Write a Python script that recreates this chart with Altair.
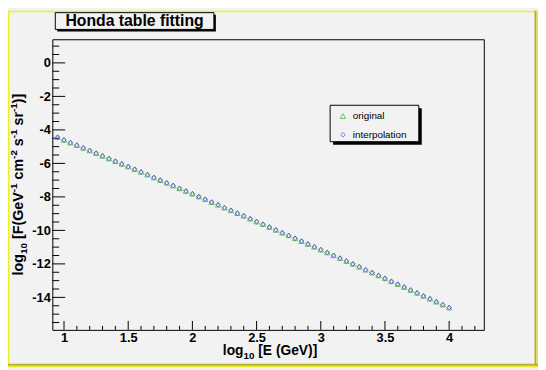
import altair as alt
import pandas as pd

# ---------------- data ----------------
log_e = [0.95, 1.0, 1.05, 1.1, 1.15, 1.2, 1.25, 1.3, 1.35, 1.4, 1.45, 1.5,
         1.55, 1.6, 1.65, 1.7, 1.75, 1.8, 1.85, 1.9, 1.95, 2.0, 2.05, 2.1,
         2.15, 2.2, 2.25, 2.3, 2.35, 2.4, 2.45, 2.5, 2.55, 2.6, 2.65, 2.7,
         2.75, 2.8, 2.85, 2.9, 2.95, 3.0, 3.05, 3.1, 3.15, 3.2, 3.25, 3.3,
         3.35, 3.4, 3.45, 3.5, 3.55, 3.6, 3.65, 3.7, 3.75, 3.8, 3.85, 3.9,
         3.95, 4.0]

orig_flux = [-4.44, -4.60, -4.76, -4.91, -5.07, -5.23, -5.39, -5.55, -5.71,
             -5.87, -6.03, -6.19, -6.35, -6.51, -6.67, -6.84, -7.00, -7.16,
             -7.32, -7.49, -7.65, -7.81, -7.98, -8.14, -8.31, -8.47, -8.64,
             -8.80, -8.97, -9.13, -9.30, -9.47, -9.63, -9.80, -9.97, -10.14,
             -10.30, -10.47, -10.64, -10.81, -10.98, -11.15, -11.32, -11.49,
             -11.66, -11.83, -12.00, -12.17, -12.35, -12.52, -12.69, -12.86,
             -13.04, -13.21, -13.38, -13.56, -13.73, -13.91, -14.08, -14.26,
             -14.43, -14.61]

interp_flux = [-4.44, -4.60, -4.76, -4.91, -5.07, -5.23, -5.39, -5.55, -5.71,
               -5.87, -6.03, -6.19, -6.35, -6.51, -6.67, -6.84, -7.00, -7.16,
               -7.32, -7.49, -7.65, -7.81, -7.98, -8.14, -8.31, -8.47, -8.64,
               -8.80, -8.97, -9.13, -9.30, -9.47, -9.63, -9.80, -9.97, -10.14,
               -10.30, -10.47, -10.64, -10.81, -10.98, -11.15, -11.32, -11.49,
               -11.66, -11.83, -12.00, -12.17, -12.35, -12.52, -12.69, -12.86,
               -13.04, -13.21, -13.38, -13.56, -13.73, -13.91, -14.08, -14.26,
               -14.43, -14.61]

x_major = [1.0, 1.5, 2.0, 2.5, 3.0, 3.5, 4.0]
x_minor = [1.1, 1.2, 1.3, 1.4, 1.6, 1.7, 1.8, 1.9, 2.1, 2.2, 2.3, 2.4,
           2.6, 2.7, 2.8, 2.9, 3.1, 3.2, 3.3, 3.4, 3.6, 3.7, 3.8, 3.9,
           4.1, 4.2]
y_major = [-14, -12, -10, -8, -6, -4, -2, 0]
y_minor = [-15.5, -15, -14.5, -13.5, -13, -12.5, -11.5, -11, -10.5,
           -9.5, -9, -8.5, -7.5, -7, -6.5, -5.5, -5, -4.5, -3.5, -3,
           -2.5, -1.5, -1, -0.5, 0.5, 1.0]

title_text = "Honda table fitting"
legend_labels = ["original", "interpolation"]
# axis titles as (text, kind) pieces: n = normal, sub = subscript, sup = superscript
x_title = [("log", "n"), ("10", "sub"), (" [E (GeV)]", "n")]
y_title = [("log", "n"), ("10", "sub"), (" [F(GeV", "n"), ("-1", "sup"),
           (" cm", "n"), ("-2", "sup"), (" s", "n"), ("-1", "sup"),
           (" sr", "n"), ("-1", "sup"), (")]", "n")]

# ---------------- styling ----------------
W, H = 438, 295
BG = "#f2f2f2"
GREEN = "#33aa33"
BLUE = "#4a4ad0"
FONT = "Liberation Sans"

# Arial/Liberation Sans Bold advance widths (per 1000 em) for layout of titles
BOLD_W = {" ": 278, "[": 333, "]": 333, "(": 333, ")": 333, "-": 333,
          "0": 556, "1": 556, "2": 556, "E": 667, "F": 611, "G": 778,
          "V": 667, "c": 556, "e": 556, "g": 611, "l": 278, "m": 889,
          "o": 611, "r": 389, "s": 556}


def text_w(s, size):
    return sum(BOLD_W.get(c, 556) for c in s) * size / 1000.0


xs = alt.Scale(domain=[0.909, 4.27], nice=False, zero=False)
ys = alt.Scale(domain=[-15.94, 1.41], nice=False, zero=False)

xaxis = alt.Axis(values=x_major, ticks=False, domain=False, grid=False,
                 labelFont=FONT, labelFontWeight="bold", labelFontSize=13,
                 labelColor="black", labelPadding=2, title=None,
                 labelExpr="datum.value + ''", labelFlush=False)
yaxis = alt.Axis(values=y_major, ticks=False, domain=False, grid=False,
                 labelFont=FONT, labelFontWeight="bold", labelFontSize=13,
                 labelColor="black", labelPadding=2, title=None,
                 labelExpr="datum.value + ''")

df_o = pd.DataFrame({"logE": log_e, "flux": orig_flux})
df_i = pd.DataFrame({"logE": log_e, "flux": interp_flux})

one = alt.Data(values=[{"k": 1}])


def box(x1, x2, y1, y2, **kw):
    return alt.Chart(one).mark_rect(**kw).encode(
        x=alt.value(x1), x2=alt.value(x2), y=alt.value(y1), y2=alt.value(y2))


def txt(x, y, s, **kw):
    return alt.Chart(one).mark_text(**kw).encode(
        x=alt.value(x), y=alt.value(y), text=alt.value(s))


def rich_title(pieces, cx, cy, size, small, vertical):
    """Lay out a title made of pieces with sub/superscripts."""
    out = []
    widths = [text_w(s, size if k == "n" else small) for s, k in pieces]
    total = sum(widths)
    pos = -total / 2.0
    for (s, k), w in zip(pieces, widths):
        fs = size if k == "n" else small
        shift = {"n": 0, "sub": 4, "sup": -6}[k]
        shown = s.lstrip(" ")
        lead = text_w(s[: len(s) - len(shown)], fs)  # leading space advance
        p = pos + lead
        if vertical:
            out.append(txt(cx + shift, cy - p, shown, font=FONT,
                           fontWeight="bold", fontSize=fs, color="black",
                           align="left", baseline="alphabetic", angle=270))
        else:
            out.append(txt(cx + p, cy + shift, shown, font=FONT,
                           fontWeight="bold", fontSize=fs, color="black",
                           align="left", baseline="alphabetic"))
        pos += w
    return out


layers = []

# yellow canvas frame
layers.append(box(-45, 493, -29, -27.5, color="#f0f020"))
layers.append(box(-45, -43.5, -29, 333, color="#f0f020"))
layers.append(box(489.5, 491.5, -29, 333, color="#b0b030"))
layers.append(box(491.5, 493, -29, 333, color="#e8e830"))
layers.append(box(-45, 493, 329.5, 331.5, color="#b0b030"))
layers.append(box(-45, 493, 331.5, 333, color="#e8e830"))

# title box with shadow
layers.append(box(5, 166, -25, -8, color="black"))
layers.append(box(3, 164, -27, -10, fill=BG, stroke="black", strokeWidth=1))
layers.append(txt(83.5, -18, title_text, font=FONT, fontWeight="bold",
                  fontSize=16, color="black", align="center",
                  baseline="middle"))

# ticks
layers.append(alt.Chart(pd.DataFrame({"v": x_major})).mark_rule(
    color="black", strokeWidth=1).encode(
    x=alt.X("v:Q", scale=xs, axis=xaxis), y=alt.value(H), y2=alt.value(H - 9)))
layers.append(alt.Chart(pd.DataFrame({"v": x_minor})).mark_rule(
    color="black", strokeWidth=1).encode(
    x=alt.X("v:Q", scale=xs, axis=xaxis), y=alt.value(H), y2=alt.value(H - 4)))
layers.append(alt.Chart(pd.DataFrame({"v": y_major})).mark_rule(
    color="black", strokeWidth=1).encode(
    y=alt.Y("v:Q", scale=ys, axis=yaxis), x=alt.value(0), x2=alt.value(13)))
layers.append(alt.Chart(pd.DataFrame({"v": y_minor})).mark_rule(
    color="black", strokeWidth=1).encode(
    y=alt.Y("v:Q", scale=ys, axis=yaxis), x=alt.value(0), x2=alt.value(7)))

# data
layers.append(alt.Chart(df_o).mark_point(
    shape="triangle-up", filled=False, size=30, strokeWidth=1,
    color=GREEN).encode(
    x=alt.X("logE:Q", scale=xs, axis=xaxis),
    y=alt.Y("flux:Q", scale=ys, axis=yaxis)))
layers.append(alt.Chart(df_i).mark_point(
    shape="diamond", filled=False, size=22, strokeWidth=1,
    color=BLUE, opacity=0.8).encode(
    x=alt.X("logE:Q", scale=xs, axis=xaxis),
    y=alt.Y("flux:Q", scale=ys, axis=yaxis)))

# legend
layers.append(box(285, 375, 70, 107, color="black"))
layers.append(box(282, 372, 67, 104, fill=BG, stroke="black", strokeWidth=1))
layers.append(alt.Chart(one).mark_point(
    shape="triangle-up", filled=False, size=30, strokeWidth=1,
    color=GREEN).encode(x=alt.value(295), y=alt.value(78)))
layers.append(alt.Chart(one).mark_point(
    shape="diamond", filled=False, size=22, strokeWidth=1,
    color=BLUE).encode(x=alt.value(295), y=alt.value(97)))
layers.append(txt(305, 77.5, legend_labels[0], font=FONT, fontSize=10,
                  color="black", align="left", baseline="middle"))
layers.append(txt(305, 97, legend_labels[1], font=FONT, fontSize=10,
                  color="black", align="left", baseline="middle"))

# axis titles
layers += rich_title(x_title, 221, 321, 14, 10, vertical=False)
layers += rich_title(y_title, -30, 147.5, 14.5, 10, vertical=True)

chart = alt.layer(*layers).properties(
    width=W, height=H,
    autosize=alt.AutoSizeParams(type="none"),
    padding={"left": 45, "top": 29, "right": 55, "bottom": 38},
).configure(background=BG).configure_view(stroke="black", strokeWidth=1,
                                          fill=BG)

chart.save("out.html", embed_options={"renderer": "svg", "actions": False})
